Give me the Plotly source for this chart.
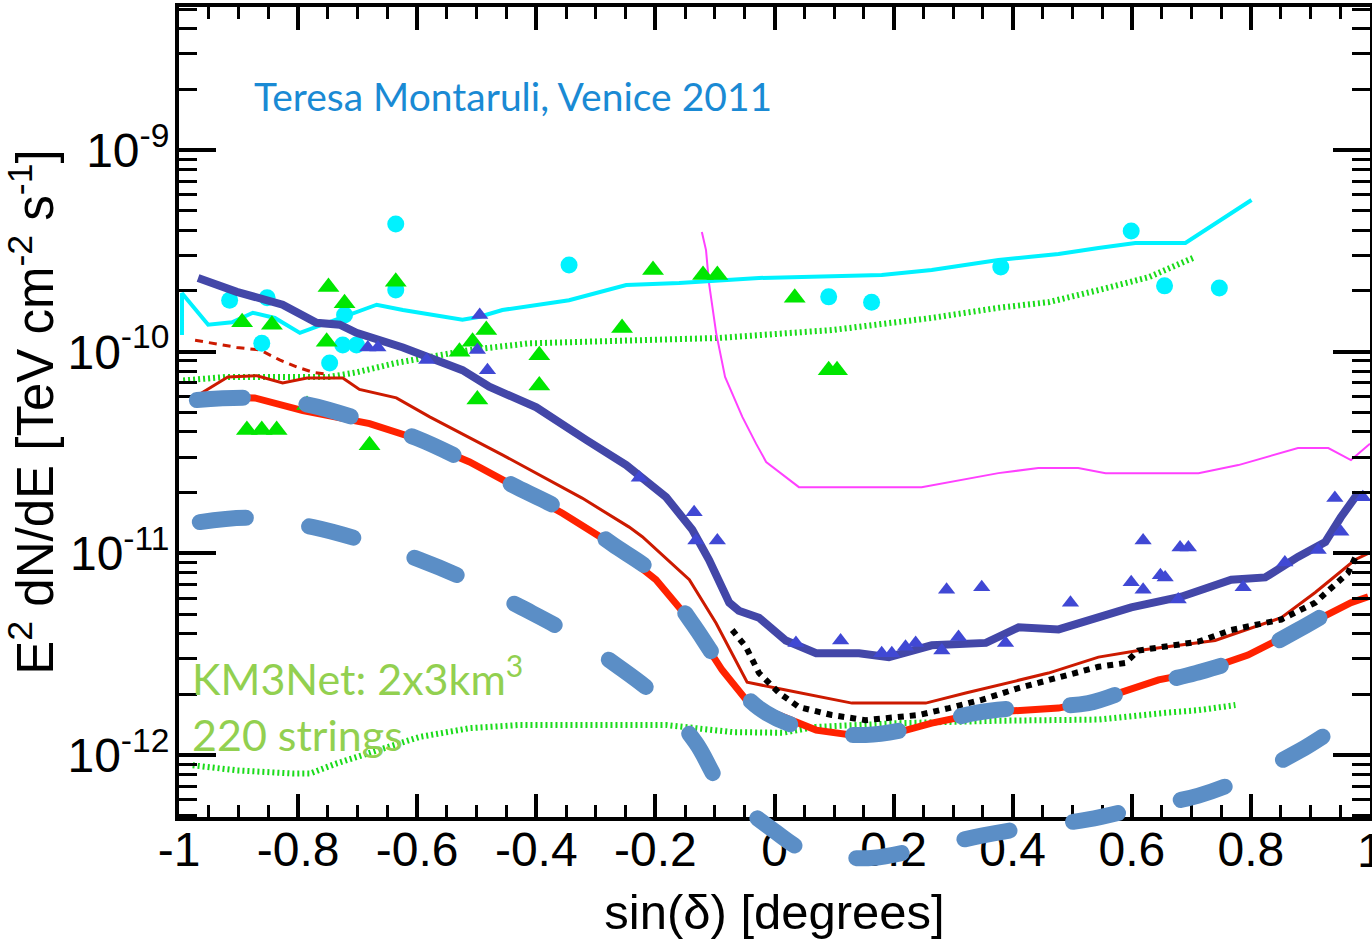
import plotly.graph_objects as go

# ---------------- data ----------------
cyan_line_x = [-0.995, -0.995, -0.951, -0.911, -0.876, -0.839, -0.797, -0.775, -0.725, -0.668, -0.624, -0.567, -0.524,
               -0.495, -0.457, -0.345, -0.249, -0.160, -0.026, 0.180, 0.264, 0.376, 0.477, 0.544, 0.606, 0.690, 0.801]
cyan_line_y = [1.21e-10, 1.95e-10, 1.36e-10, 1.40e-10, 1.56e-10, 1.47e-10, 1.24e-10, 1.31e-10, 1.49e-10, 1.71e-10,
               1.61e-10, 1.52e-10, 1.44e-10, 1.49e-10, 1.61e-10, 1.80e-10, 2.14e-10, 2.19e-10, 2.32e-10, 2.40e-10,
               2.54e-10, 2.85e-10, 3.05e-10, 3.27e-10, 3.46e-10, 3.46e-10, 5.65e-10]

cyan_dots_x = [-0.915, -0.852, -0.861, -0.747, -0.725, -0.702, -0.722, -0.636, -0.636, -0.345, 0.091, 0.163, 0.380,
               0.599, 0.655, 0.747]
cyan_dots_y = [1.80e-10, 1.85e-10, 1.10e-10, 8.8e-11, 1.08e-10, 1.08e-10, 1.52e-10, 4.30e-10, 2.02e-10, 2.69e-10,
               1.87e-10, 1.76e-10, 2.63e-10, 3.97e-10, 2.12e-10, 2.07e-10]

green_tri_x = [-0.894, -0.844, -0.749, -0.722, -0.752, -0.886, -0.861, -0.836, -0.785, -0.680, -0.636, -0.484, -0.507,
               -0.529, -0.395, -0.395, -0.499, -0.256, -0.204, -0.120, -0.096, 0.034, 0.091, 0.105]
green_tri_y = [1.40e-10, 1.36e-10, 2.09e-10, 1.74e-10, 1.12e-10, 4.09e-11, 4.09e-11, 4.09e-11, 5.44e-11, 3.44e-11,
               2.22e-10, 1.28e-10, 1.12e-10, 1.0e-10, 9.6e-11, 6.8e-11, 5.8e-11, 1.31e-10, 2.54e-10, 2.40e-10,
               2.40e-10, 1.85e-10, 8.1e-11, 8.1e-11]

blue_line_x = [-0.968, -0.903, -0.826, -0.769, -0.730, -0.702, -0.624, -0.524, -0.479, -0.400, -0.316, -0.249, -0.182,
               -0.138, -0.110, -0.076, -0.060, -0.026, 0.019, 0.070, 0.142, 0.192, 0.264, 0.355, 0.410, 0.477, 0.599,
               0.683, 0.767, 0.824, 0.879, 0.925, 0.951, 0.980]
blue_line_y = [2.32e-10, 1.98e-10, 1.71e-10, 1.39e-10, 1.36e-10, 1.24e-10, 1.05e-10, 8.1e-11, 6.7e-11, 5.3e-11,
               3.65e-11, 2.74e-11, 1.90e-11, 1.31e-11, 9.3e-12, 5.7e-12, 5.2e-12, 4.8e-12, 3.7e-12, 3.2e-12, 3.2e-12,
               3.06e-12, 3.5e-12, 3.6e-12, 4.3e-12, 4.2e-12, 5.4e-12, 6.1e-12, 7.4e-12, 7.6e-12, 9.6e-12, 1.14e-11,
               1.51e-11, 1.99e-11]

blue_tri_x = [-0.495, -0.683, -0.666, -0.499, -0.482, -0.584, -0.227, -0.135, -0.132, -0.096, 0.036, 0.111, 0.180,
              0.197, 0.220, 0.237, 0.281, 0.309, 0.289, 0.348, 0.388, 0.497, 0.619, 0.681, 0.695, 0.599, 0.619, 0.648,
              0.656, 0.678, 0.787, 0.857, 0.913, 0.941, 0.951, 0.988]
blue_tri_y = [1.52e-10, 1.05e-10, 1.05e-10, 1.02e-10, 8.1e-11, 9.1e-11, 2.37e-11, 1.60e-11, 1.16e-11, 1.16e-11,
              3.6e-12, 3.7e-12, 3.2e-12, 3.2e-12, 3.44e-12, 3.6e-12, 3.3e-12, 3.85e-12, 6.6e-12, 6.8e-12, 3.6e-12,
              5.7e-12, 1.16e-11, 1.07e-11, 1.07e-11, 7.2e-12, 6.6e-12, 7.8e-12, 7.6e-12, 5.9e-12, 6.8e-12, 9.0e-12,
              1.04e-11, 1.88e-11, 1.28e-11, 1.9e-11]

red_thick_x = [-0.970, -0.873, -0.792, -0.680, -0.613, -0.512, -0.440, -0.356, -0.277, -0.199, -0.143, -0.088, -0.043,
               -0.014, 0.070, 0.153, 0.209, 0.264, 0.348, 0.477, 0.544, 0.645, 0.712, 0.795, 0.879, 0.968, 0.997]
red_thick_y = [5.96e-11, 5.9e-11, 5.1e-11, 4.4e-11, 3.8e-11, 2.84e-11, 2.18e-11, 1.58e-11, 1.13e-11, 7.4e-12, 4.7e-12,
               2.64e-12, 1.81e-12, 1.67e-12, 1.33e-12, 1.23e-12, 1.30e-12, 1.44e-12, 1.62e-12, 1.71e-12, 1.88e-12,
               2.36e-12, 2.58e-12, 3.13e-12, 4.17e-12, 5.7e-12, 6.1e-12]

red_thin_x = [-0.973, -0.918, -0.869, -0.826, -0.785, -0.725, -0.697, -0.635, -0.579, -0.512, -0.457, -0.323, -0.244,
              -0.222, -0.143, -0.098, -0.046, 0.019, 0.130, 0.254, 0.321, 0.460, 0.544, 0.611, 0.740, 0.851, 0.908,
              0.975, 0.997]
red_thin_y = [5.96e-11, 7.5e-11, 7.6e-11, 7.0e-11, 7.4e-11, 7.4e-11, 6.5e-11, 5.9e-11, 4.75e-11, 3.73e-11, 3.08e-11,
              1.88e-11, 1.35e-11, 1.21e-11, 7.4e-12, 4.5e-12, 2.3e-12, 2.1e-12, 1.81e-12, 1.81e-12, 2.03e-12,
              2.55e-12, 3.06e-12, 3.3e-12, 3.7e-12, 4.8e-12, 6.4e-12, 9.3e-12, 1.0e-11]

red_dash_x = [-0.973, -0.903, -0.864, -0.831, -0.802, -0.775, -0.747]
red_dash_y = [1.14e-10, 1.05e-10, 1.02e-10, 9.1e-11, 8.4e-11, 7.9e-11, 7.7e-11]

magenta_x = [-0.122, -0.115, -0.110, -0.098, -0.083, -0.076, -0.054, -0.031, -0.014, 0.041, 0.247, 0.376, 0.443,
             0.510, 0.556, 0.712, 0.779, 0.879, 0.930, 0.968, 1.0]
magenta_y = [3.92e-10, 3.19e-10, 2.19e-10, 1.24e-10, 7.5e-11, 6.7e-11, 4.75e-11, 3.5e-11, 2.84e-11, 2.13e-11,
             2.13e-11, 2.5e-11, 2.65e-11, 2.65e-11, 2.5e-11, 2.5e-11, 2.74e-11, 3.33e-11, 3.33e-11, 2.9e-11, 3.5e-11]

green_dot_hi_x = [-0.993, -0.920, -0.747, -0.702, -0.635, -0.584, -0.512, -0.412, -0.244, -0.093, 0.096, 0.264, 0.376,
                  0.460, 0.544, 0.628, 0.707]
green_dot_hi_y = [7.2e-11, 7.5e-11, 7.5e-11, 7.9e-11, 8.8e-11, 9.4e-11, 1.02e-10, 1.10e-10, 1.14e-10, 1.17e-10,
                  1.28e-10, 1.47e-10, 1.65e-10, 1.76e-10, 2.02e-10, 2.34e-10, 2.95e-10]

green_dot_lo_x = [-0.977, -0.903, -0.809, -0.780, -0.735, -0.668, -0.596, -0.512, -0.428, -0.244, -0.182, -0.071,
                  0.013, 0.070, 0.209, 0.376, 0.544, 0.656, 0.712, 0.774]
green_dot_lo_y = [8.9e-13, 8.4e-13, 8.1e-13, 8.1e-13, 9.1e-13, 1.06e-12, 1.23e-12, 1.36e-12, 1.41e-12, 1.41e-12,
                  1.41e-12, 1.30e-12, 1.29e-12, 1.38e-12, 1.44e-12, 1.48e-12, 1.50e-12, 1.62e-12, 1.67e-12, 1.77e-12]

black_dot_x = [-0.071, -0.048, -0.026, 0.008, 0.041, 0.096, 0.153, 0.209, 0.242, 0.293, 0.348, 0.410, 0.477, 0.544,
               0.589, 0.611, 0.712, 0.767, 0.851, 0.908, 0.963, 0.975]
black_dot_y = [4.17e-12, 3.44e-12, 2.55e-12, 2.03e-12, 1.73e-12, 1.58e-12, 1.49e-12, 1.53e-12, 1.58e-12, 1.71e-12,
               1.88e-12, 2.15e-12, 2.44e-12, 2.74e-12, 2.86e-12, 3.3e-12, 3.65e-12, 4.17e-12, 4.7e-12, 5.7e-12,
               8.0e-12, 9.5e-12]

km3_upper_x = [-0.970, -0.876, -0.780, -0.692, -0.601, -0.521, -0.433, -0.350, -0.272, -0.199, -0.138, -0.088, -0.026,
               0.058, 0.153, 0.242, 0.338, 0.427, 0.527, 0.611, 0.707, 0.790, 0.879, 0.958]
km3_upper_y = [5.76e-11, 5.9e-11, 5.44e-11, 4.58e-11, 3.73e-11, 2.9e-11, 2.13e-11, 1.60e-11, 1.11e-11, 7.8e-12,
               4.5e-12, 2.74e-12, 1.71e-12, 1.33e-12, 1.26e-12, 1.38e-12, 1.62e-12, 1.73e-12, 1.81e-12, 2.18e-12,
               2.55e-12, 3.06e-12, 4.17e-12, 5.7e-12]

km3_lower_x = [-0.965, -0.876, -0.775, -0.692, -0.596, -0.516, -0.425, -0.350, -0.266, -0.197, -0.132, -0.088, -0.009,
               0.056, 0.125, 0.167, 0.241, 0.350, 0.432, 0.527, 0.616, 0.712, 0.795, 0.884, 0.958, 0.988]
km3_lower_y = [1.43e-11, 1.50e-11, 1.35e-11, 1.16e-11, 9.3e-12, 7.4e-12, 5.4e-12, 4.1e-12, 2.8e-12, 1.94e-12,
               1.15e-12, 6.95e-13, 4.4e-13, 3.3e-13, 3.1e-13, 3.1e-13, 3.4e-13, 4.0e-13, 4.4e-13, 4.8e-13, 5.5e-13,
               6.3e-13, 7.8e-13, 1.06e-12, 1.44e-12, 1.55e-12]

x_tick_vals = [-1, -0.8, -0.6, -0.4, -0.2, 0, 0.2, 0.4, 0.6, 0.8, 1]
x_tick_text = ["-1", "-0.8", "-0.6", "-0.4", "-0.2", "0", "0.2", "0.4", "0.6", "0.8", "1"]
y_tick_vals = [1e-12, 1e-11, 1e-10, 1e-9]
y_tick_text = ["10<sup>-12</sup>", "10<sup>-11</sup>", "10<sup>-10</sup>", "10<sup>-9</sup>"]
y_minor_vals = [m * 10.0 ** e for e in (-13, -12, -11, -10, -9) for m in range(2, 10)]

# ---------------- figure ----------------
fig = go.Figure()


def line(x, y, color, width, dash="solid", xa="x", ya="y", shape="linear"):
    fig.add_trace(go.Scatter(x=x, y=y, mode="lines", xaxis=xa, yaxis=ya,
                             line=dict(color=color, width=width, dash=dash, shape=shape),
                             hoverinfo="skip"))


def pts(x, y, color, symbol, size):
    fig.add_trace(go.Scatter(x=x, y=y, mode="markers", hoverinfo="skip",
                             marker=dict(color=color, symbol=symbol, size=size, line=dict(width=0))))


line(green_dot_hi_x, green_dot_hi_y, "#1BDB1B", 6, "2px,3px")
line(green_dot_lo_x, green_dot_lo_y, "#1BDB1B", 6, "2px,3px")
line(magenta_x, magenta_y, "#FF40FF", 2)
line(red_thin_x, red_thin_y, "#CC1A00", 3)
line(red_dash_x, red_dash_y, "#CC1A00", 3, "8px,6px")
line(red_thick_x, red_thick_y, "#FF2200", 7)
line(black_dot_x, black_dot_y, "#000000", 6, "6px,6px")
line(cyan_line_x, cyan_line_y, "#00F2FF", 4)
pts(cyan_dots_x, cyan_dots_y, "#00F2FF", "circle", 17)
line(blue_line_x, blue_line_y, "#4347A8", 8)
pts(green_tri_x, green_tri_y, "#00E600", "triangle-up", 19)
pts(blue_tri_x, blue_tri_y, "#4048D4", "triangle-up", 15)

# thick dashed projections (on an unclipped, taller overlay subplot)
line(km3_upper_x, km3_upper_y, "#5B8EC6", 16, "46px,64px", "x2", "y2", "spline")
line(km3_lower_x, km3_lower_y, "#5B8EC6", 16, "46px,64px", "x2", "y2", "spline")

axis_common = dict(showline=True, linewidth=4, linecolor="black", mirror="ticks", ticks="inside",
                   tickcolor="black", tickwidth=3.5, showgrid=False, zeroline=False, automargin=False,
                   tickfont=dict(size=48, color="black"))

fig.update_layout(
    width=1372, height=939,
    margin=dict(l=179, r=2, t=7, b=60),
    paper_bgcolor="white", plot_bgcolor="rgba(0,0,0,0)",
    showlegend=False,
    font=dict(family="Liberation Sans, Arial, sans-serif", color="black"),
    xaxis=dict(domain=[0, 1], range=[-1, 1], anchor="y", tickmode="array", tickvals=x_tick_vals,
               ticktext=x_tick_text, ticklen=23, ticklabelstandoff=-13,
               minor=dict(dtick=0.05, tick0=0, ticks="inside", ticklen=12, tickwidth=3, tickcolor="black",
                          showgrid=False),
               title=dict(text="sin(δ) [degrees]", font=dict(size=49, color="black"), standoff=22),
               **axis_common),
    yaxis=dict(domain=[0.0711, 1], type="log", range=[-12.307, -8.291], anchor="x", tickmode="array",
               tickvals=y_tick_vals, ticktext=y_tick_text, ticklen=37, ticklabelstandoff=-4,
               minor=dict(tickmode="array", tickvals=y_minor_vals, ticks="inside", ticklen=18, tickwidth=3,
                          tickcolor="black", showgrid=False),
               title=dict(text="E<sup>2</sup> dN/dE [TeV cm<sup>-2</sup> s<sup>-1</sup>]",
                          font=dict(size=51, color="black"), standoff=0),
               **axis_common),
    xaxis2=dict(domain=[0, 1], range=[-1, 1], anchor="y2", visible=False),
    yaxis2=dict(domain=[0, 1], type="log", range=[-12.614, -8.291], anchor="x2", visible=False),
    annotations=[
        dict(text="Teresa Montaruli, Venice 2011", x=-0.878, y=-8.732, xref="x", yref="y",
             xanchor="left", yanchor="middle", showarrow=False,
             font=dict(family="Lato, sans-serif", size=39, color="#1A8AD4")),
        dict(text="KM3Net: 2x3km<sup>3</sup>", x=-0.982, y=-11.603, xref="x", yref="y",
             xanchor="left", yanchor="middle", showarrow=False,
             font=dict(family="Lato, sans-serif", size=43, color="#92D050")),
        dict(text="220 strings", x=-0.982, y=-11.900, xref="x", yref="y",
             xanchor="left", yanchor="middle", showarrow=False,
             font=dict(family="Lato, sans-serif", size=43, color="#92D050")),
        # the last x tick label, which runs off the right edge of the page
        dict(text="1", x=1.0, y=0.033, xref="paper", yref="paper", xanchor="center", yanchor="middle",
             showarrow=False, font=dict(family="Liberation Sans, Arial, sans-serif", size=48, color="black")),
    ],
)

post = """
var gd = document.getElementById('{plot_id}');
function rc(){ gd.querySelectorAll('.subplot.x2y2 .js-line').forEach(function(p){
  p.style.strokeLinecap='round'; }); }
rc(); gd.on('plotly_afterplot', rc);
"""
fig.write_html("out.html", post_script=post, config={"displayModeBar": False})
